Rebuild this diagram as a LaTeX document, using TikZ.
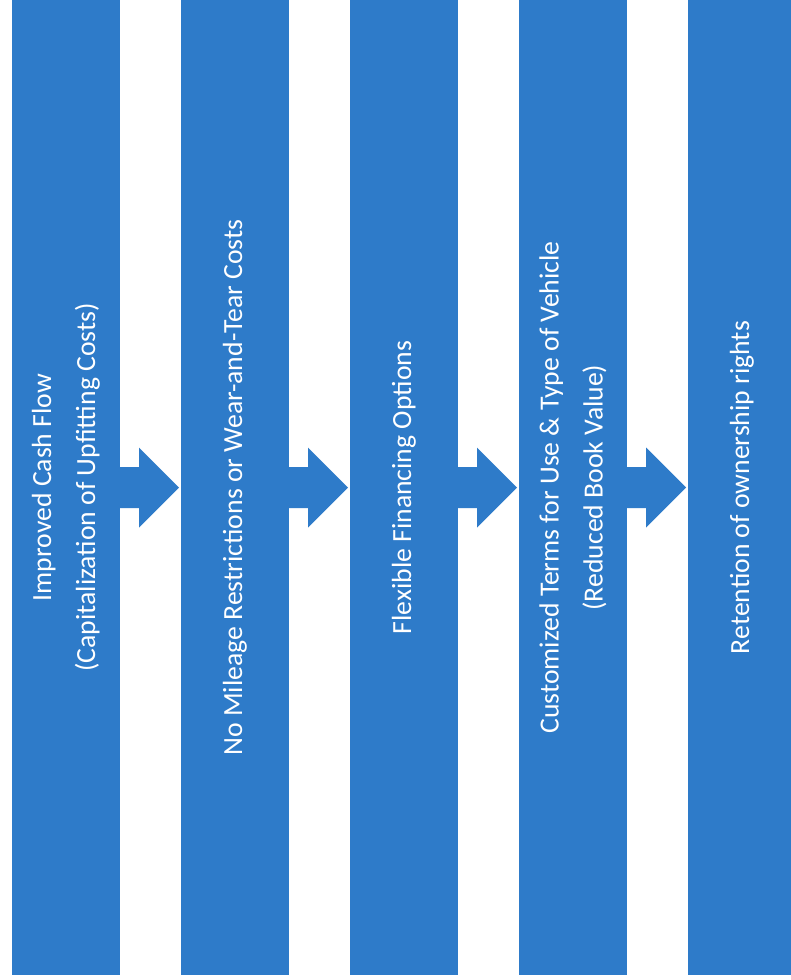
\documentclass[tikz,border=0pt]{standalone}
\usepackage{fontspec}
\setmainfont{Carlito}
\definecolor{barblue}{HTML}{2E7BC9}
\begin{document}
\begin{tikzpicture}[x=1pt,y=-1pt,
  bar/.style={fill=barblue, draw=none, minimum width=108pt, minimum height=975pt, inner sep=0pt, outer sep=0pt},
  label/.style={rotate=90, text=white, align=center, inner sep=0pt, font=\fontsize{27.7}{33}\selectfont},
  arrowfill/.style={fill=barblue, draw=none}]
\fill[white] (0,0) rectangle (790,980);
\useasboundingbox (0,0) rectangle (790,980);
\node[bar] (b1) at (66,487.5) {};
\node[bar] (b2) at (235,487.5) {};
\node[bar] (b3) at (404,487.5) {};
\node[bar] (b4) at (573,487.5) {};
\node[bar] (b5) at (742,487.5) {};
\node[label] (t1) at (b1.center) {Improved Cash Flow\\[11pt](Capitalization of Upfitting Costs)};
\node[label] (t2) at (b2.center) {No Mileage Restrictions or Wear-and-Tear Costs};
\node[label] (t3) at (b3.center) {Flexible Financing Options};
\node[label] (t4) at (b4.center) {Customized Terms for Use \& Type of Vehicle\\[11pt](Reduced Book Value)};
\node[label] (t5) at (b5.center) {Retention of ownership rights};
\foreach \a/\b in {b1/b2,b2/b3,b3/b4,b4/b5}{
  \coordinate (tip) at ([xshift=-2pt]\b.west);
  \fill[arrowfill] ([xshift=-1pt,yshift=20.5pt]\a.east) -- ([xshift=-40pt,yshift=20.5pt]tip) -- ([xshift=-40pt,yshift=40pt]tip) -- (tip) -- ([xshift=-40pt,yshift=-40pt]tip) -- ([xshift=-40pt,yshift=-20.5pt]tip) -- ([xshift=-1pt,yshift=-20.5pt]\a.east) -- cycle;
}
\end{tikzpicture}
\end{document}
